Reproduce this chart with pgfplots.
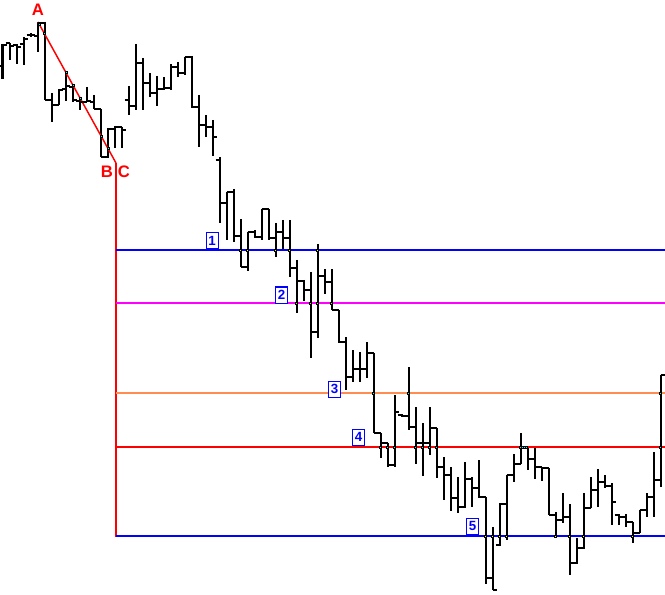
\documentclass[border=0pt]{standalone}
\usepackage{pgfplots}
\pgfplotsset{compat=1.18}
\usepackage{pgfplotstable}
\usepackage{fontspec}
\setmainfont{Liberation Sans}

% OHLC bar ticks: open to the left, close to the right
\pgfdeclareplotmark{ohlcopen}{%
  \pgfpathmoveto{\pgfqpoint{-3pt}{0pt}}\pgfpathlineto{\pgfqpoint{0pt}{0pt}}\pgfusepathqstroke}
\pgfdeclareplotmark{ohlcclose}{%
  \pgfpathmoveto{\pgfqpoint{0pt}{0pt}}\pgfpathlineto{\pgfqpoint{3pt}{0pt}}\pgfusepathqstroke}

\definecolor{lvlblue}{RGB}{0,0,255}
\definecolor{lvlmag}{RGB}{255,0,255}
\definecolor{lvlorange}{RGB}{255,140,80}
\definecolor{lvlred}{RGB}{255,0,0}
\definecolor{hitY}{RGB}{255,255,0}
\definecolor{hitG}{RGB}{128,255,0}
\definecolor{hitC}{RGB}{0,255,255}

\pgfplotstableread{
x     o   h   l   c
2.5   528 550 515 549
9.5   551 551 534 548
16.5  549 550 530 547
23.5  550 557 529 555
30.5  559 561 557 559
37.5  558 572 542 571
44.5  571 572 494 494
51.5  494 501 472 489
58.5  489 505 489 504
65.5  505 521 493 508
72.5  507 509 492 494
79.5  493 494 484 492
86.5  492 507 492 493
93.5  492 499 485 485
100.5 485 485 437 437
107.5 437 466 436 465
114.5 465 468 446 467
121.5 467 467 446 464
128.5 494 508 479 488
135.5 488 550 484 531
142.5 531 536 484 511
149.5 511 521 497 501
156.5 501 518 488 505
163.5 505 517 504 506
170.5 506 530 504 527
177.5 527 532 517 521
184.5 521 537 519 537
191.5 537 538 486 487
198.5 487 499 447 469
205.5 469 479 457 467
212.5 467 474 438 457
219.5 434 437 371 391
226.5 391 402 354 402
233.5 402 405 352 358
240.5 358 375 327 327
247.5 327 362 323 362
254.5 362 364 356 357
261.5 357 385 354 385
268.5 385 385 354 356
275.5 356 371 337 362
282.5 362 374 344 356
289.5 356 374 317 326
296.5 326 334 281 313
303.5 313 314 293 304
310.5 304 322 236 262
317.5 262 350 256 318
324.5 318 325 300 312
331.5 312 325 284 284
338.5 284 284 251 252
345.5 252 257 204 217
352.5 217 244 212 225
359.5 225 242 212 225
366.5 225 252 216 241
373.5 241 241 161 161
380.5 161 161 136 151
387.5 151 151 127 129
394.5 129 199 127 182
401.5 179 180 177 178
408.5 178 227 164 167
415.5 167 187 130 151
422.5 151 171 118 151
429.5 151 187 139 166
436.5 166 166 116 127
443.5 127 137 94  119
450.5 119 127 83  96
457.5 96  117 81  87
464.5 87  132 86  115
471.5 115 117 87  106
478.5 106 134 96  97
485.5 97  97  10  16
492.5 16  67  4   4
499.5 49  91  48  90
506.5 90  119 54  119
513.5 119 140 112 130
520.5 130 161 130 147
527.5 147 147 124 135
534.5 135 147 115 127
541.5 127 127 113 126
548.5 126 126 79  79
555.5 79  82  57  74
562.5 74  101 71  77
569.5 77  90  19  31
576.5 31  56  30  46
583.5 46  101 45  86
590.5 86  117 86  104
597.5 104 125 87  112
604.5 112 119 106 108
611.5 108 111 69  92
618.5 79  80  69  77
625.5 77  80  67  72
632.5 72  72  51  61
639.5 61  84  61  84
646.5 84  101 77  97
653.5 97  142 77  114
660.5 114 219 107 219
}\bars

\begin{document}
\begin{tikzpicture}
\begin{axis}[
  hide axis, scale only axis,
  width=498.75pt, height=445.5pt,
  xmin=0, xmax=665, ymin=0, ymax=594,
  clip=false,
  hit/.style={only marks, mark=square*, mark size=0.75pt, mark options={draw=none, fill=#1}}]

% high-low range of each bar
\addplot[draw=none, mark=none,
  error bars/.cd, y dir=minus, y explicit, error mark=none,
  error bar style={draw=black, line width=1.5pt, solid}]
  table[x=x, y=h, y error minus expr=\thisrow{h}-\thisrow{l}] {\bars};
% open and close ticks
\addplot[only marks, mark=ohlcopen, mark options={black, line width=1.5pt}]
  table[x=x, y=o] {\bars};
\addplot[only marks, mark=ohlcclose, mark options={black, line width=1.5pt}]
  table[x=x, y=c] {\bars};

% swing A-B and projection levels from C
\addplot[lvlred, line width=1.1pt] coordinates {(38,572) (116,431)};
\addplot[lvlred, line width=1.5pt] coordinates {(116,431) (116,57)};
\addplot[lvlblue, line width=1.5pt] coordinates {(116,344) (665,344)};
\addplot[lvlmag, line width=1.5pt] coordinates {(116,291) (665,291)};
\addplot[lvlorange, line width=1.5pt] coordinates {(116,201) (665,201)};
\addplot[lvlred, line width=1.5pt] coordinates {(116,147) (665,147)};
\addplot[lvlblue, line width=1.5pt] coordinates {(116,58) (665,58)};

% points where bars touch the lines
\addplot[hit=hitC] coordinates {(39,570.2) (44,561.2) (66,521.4) (73,508.7) (80,496.1) (101,458.1) (108,445.5)};
\addplot[hit=hitY] coordinates {(240.5,344) (247.5,344) (275.5,344) (289.5,344) (317.5,344)};
\addplot[hit=hitG] coordinates {(296.5,291) (310.5,291) (317.5,291) (331.5,291)};
\addplot[hit=hitC] coordinates {(373.5,201) (408.5,201) (660.5,201)};
\addplot[hit=hitC] coordinates {(380.5,147) (387.5,147) (394.5,147) (415.5,147) (422.5,147) (429.5,147) (436.5,147)
  (520.5,147) (522.5,147) (524.5,147) (526.5,147) (660.5,147)};
\addplot[hit=hitY] coordinates {(485.5,58) (492.5,58) (499.5,58) (506.5,58) (555.5,58) (569.5,58) (583.5,58) (632.5,58)};

\tikzset{pt/.style={text=lvlred, inner sep=0pt, font=\fontsize{12.5}{12.5}\selectfont\bfseries},
         lv/.style={draw=lvlblue, fill=white, line width=0.75pt, inner sep=0pt,
                    minimum width=9pt, minimum height=12pt, text=lvlblue,
                    font=\fontsize{10}{10}\selectfont\bfseries}}
\node[pt] at (axis cs:38,584) {A};
\node[pt] at (axis cs:107,422) {B};
\node[pt] at (axis cs:124,422) {C};

\node[lv] at (axis cs:212,353) {1};
\node[lv] at (axis cs:281.5,299) {2};
\node[lv] at (axis cs:334.5,205) {3};
\node[lv] at (axis cs:358.5,157) {4};
\node[lv] at (axis cs:472.5,68) {5};
\end{axis}
\pgfresetboundingbox
\path[use as bounding box] (current axis.south west) rectangle (current axis.north east);
\end{tikzpicture}
\end{document}
